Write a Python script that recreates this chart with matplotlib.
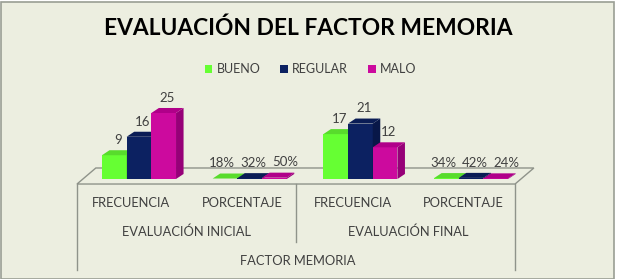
import matplotlib.pyplot as plt
from matplotlib.patches import Polygon, Rectangle
import numpy as np

# Datos
categorias = ["FRECUENCIA", "PORCENTAJE", "FRECUENCIA", "PORCENTAJE"]
grupos = ["EVALUACIÓN INICIAL", "EVALUACIÓN FINAL"]
eje = "FACTOR MEMORIA"
series = ["BUENO", "REGULAR", "MALO"]
bueno = [9, 0.18, 17, 0.34]
regular = [16, 0.32, 21, 0.42]
malo = [25, 0.50, 12, 0.24]
es_pct = [False, True, False, True]

plt.rcParams['font.family'] = ['Lato', 'DejaVu Sans']

W, H = 619, 279
fig = plt.figure(figsize=(W / 100, H / 100), dpi=100)
fig.patch.set_facecolor("white")
fig.patches.append(Rectangle((1 / W, 0), 613 / W, 277 / H, transform=fig.transFigure,
                             facecolor="#ECEEE0", edgecolor="#9A9E94", lw=1.2, zorder=-5))

# 1 categoria = 110.7 px, 1 unidad = 2.64 px, origen en (139, 179)
ax = fig.add_axes([0, 0, 1, 1])
ax.set_xlim(-139 / 110.7, (W - 139) / 110.7)
ax.set_ylim((179 - H) / 2.64, 179 / 2.64)
ax.axis("off")
ax.patch.set_alpha(0)

# suelo 3D
fx0, fx1, fdx = -0.56, 3.397, 0.17
fy0, fy1 = -1.9, 4.17
ax.add_patch(Polygon([(fx0, fy0), (fx1, fy0), (fx1 + fdx, fy1), (fx0 + fdx, fy1)],
                     closed=True, facecolor="#ECEEE0", edgecolor="#8F938A", lw=1, zorder=1))
borde = "#8F938A"
ax.plot([fx0, fx0], [fy0, -34.5], color=borde, lw=1)
ax.plot([fx1, fx1], [fy0, -34.5], color=borde, lw=1)
ax.plot([(fx0 + fx1) / 2, (fx0 + fx1) / 2], [fy0, -23.9], color=borde, lw=1)

colores = ["#66FF33", "#0C2161", "#CC0A9E"]
lados = ["#4DBF26", "#081748", "#960078"]
techos = ["#58DC2C", "#0A1C55", "#B00089"]
ancho = 0.223
ddx, ddy = 0.068, 1.9
x = np.arange(len(categorias))

handles = []
for k, vals in enumerate([bueno, regular, malo]):
    xs = x + (k - 1) * ancho
    b = ax.bar(xs, vals, width=ancho, color=colores[k], zorder=3 + k, label=series[k])
    handles.append(b)
    for xi, v, pct in zip(xs, vals, es_pct):
        l, r = xi - ancho / 2, xi + ancho / 2
        ax.add_patch(Polygon([(r, 0), (r + ddx, ddy), (r + ddx, v + ddy), (r, v)],
                             facecolor=lados[k], edgecolor="none", zorder=3 + k))
        ax.add_patch(Polygon([(l, v), (r, v), (r + ddx, v + ddy), (l + ddx, v + ddy)],
                             facecolor=techos[k], edgecolor="none", zorder=3 + k))
        txt = f"{v:.0%}" if pct else f"{v:g}"
        sep = (k - 1) * 0.06 if pct else 0
        ax.text(xi + ddx / 2 + sep, v + ddy + 1.6, txt, ha="center", va="bottom",
                fontsize=9.5, color="#404040", zorder=10)

# etiquetas del eje
for i, c in enumerate(categorias):
    ax.text(i - 0.07, -9.1, c, ha="center", va="center", fontsize=9.3, color="#404040")
for g, nombre in enumerate(grupos):
    ax.text(2 * g + 0.5 - 0.07, -20.1, nombre, ha="center", va="center", fontsize=9.3, color="#404040")
ax.text(1.5 - 0.07, -31.1, eje, ha="center", va="center", fontsize=9.3, color="#404040")

fig.text(308 / W, 1 - 28.5 / H, "EVALUACIÓN DEL FACTOR MEMORIA", ha="center", va="center",
         fontsize=16.4, fontweight="bold", color="black")
fig.legend(handles=handles, loc="center", bbox_to_anchor=(310.5 / W, 1 - 69 / H), ncol=3,
           frameon=False, fontsize=9, handlelength=0.6, handleheight=0.6,
           handletextpad=0.35, columnspacing=1.6, labelcolor="#404040")

fig.savefig("out.png", dpi=100)
